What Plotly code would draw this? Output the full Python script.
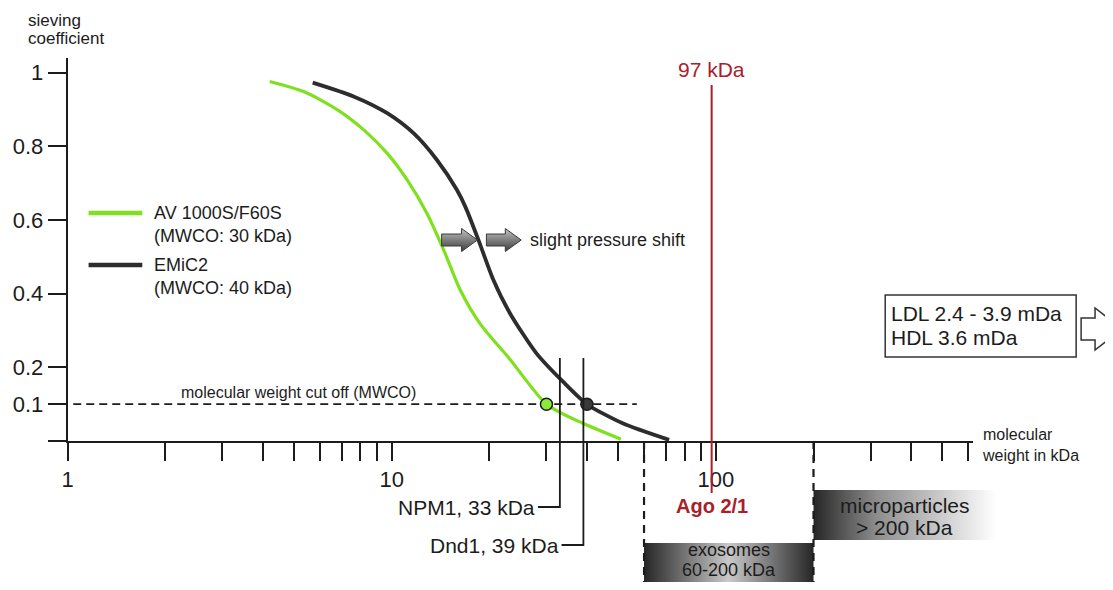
import math
import plotly.graph_objects as go

# ---------------- data ----------------
series_names = ["AV 1000S/F60S", "EMiC2"]
series_notes = ["(MWCO: 30 kDa)", "(MWCO: 40 kDa)"]
series_colors = ["#7ee01e", "#2d2d2d"]
series_widths = [3.2, 3.8]

av_kda = [4.2, 5.37, 6.8, 8.21, 9.68, 11.15, 12.84, 14.45, 16.26, 18.73, 23.14, 30.0, 38.86, 50.9]
av_sc = [0.976, 0.948, 0.899, 0.844, 0.781, 0.709, 0.618, 0.519, 0.410, 0.318, 0.222, 0.100, 0.048, 0.005]
emic_kda = [5.70, 7.65, 9.68, 11.69, 13.78, 15.87, 16.88, 18.50, 20.58, 23.14, 27.94, 33.74, 40.0, 51.55, 71.7]
emic_sc = [0.973, 0.935, 0.890, 0.835, 0.763, 0.682, 0.635, 0.546, 0.437, 0.347, 0.238, 0.161, 0.100, 0.048, 0.003]

mwco_kda = [30, 40]
mwco_level = 0.1
mwco_span = [1.04, 57]
mwco_text = "molecular weight cut off (MWCO)"

protein_names = ["NPM1", "Dnd1"]
protein_kda = [33, 39]

ago_kda = 97
ago_labels = ["97 kDa", "Ago 2/1"]

exosome_range = [60, 200]
exosome_text = ["exosomes", "60-200 kDa"]
microparticle_min = 200
microparticle_text = ["microparticles", "> 200 kDa"]
lipo_text = ["LDL 2.4 - 3.9 mDa", "HDL 3.6 mDa"]

x_tick_vals = [1, 2, 3, 4, 5, 6, 7, 8, 9, 10, 20, 30, 40, 50, 60, 70, 80, 90,
               100, 200, 300, 400, 500, 600]
x_tick_named = {1: "1", 10: "10", 100: "100"}
y_tick_vals = [0, 0.1, 0.2, 0.4, 0.6, 0.8, 1]
y_tick_labels = ["", "0.1", "0.2", "0.4", "0.6", "0.8", "1"]
y_title = ["sieving", "coefficient"]
x_title = ["molecular", "weight in kDa"]
shift_text = "slight pressure shift"

# ---------------- geometry (reference-page pixels) ----------------
PAGE_W, PAGE_H = 1113, 590
OFF = 8                      # default body margin of the page
W, H = PAGE_W - 2 * OFF, PAGE_H - 2 * OFF
X1_PX = 62        # pixel column of x = 1
DEC_PX = 325.9    # pixels per decade
Y0_PX = 441       # pixel row of y = 0
UNIT_PX = 368.3   # pixels per unit of sieving coefficient
XMAX_PX = 972
YTOP_PX = 58

INK = "#1c1c1c"
RED = "#a8202a"
FONT = "Liberation Sans, Arial, sans-serif"


def px_x(px):
    return 10 ** ((px - X1_PX) / DEC_PX)


def px_y(py):
    return (Y0_PX - py) / UNIT_PX


def pp(px, py):
    return (px - OFF) / W, 1 - (py - OFF) / H


fig = go.Figure()

# main curves
for xs, ys, col, wd in zip([av_kda, emic_kda], [av_sc, emic_sc], series_colors, series_widths):
    fig.add_trace(go.Scatter(x=xs, y=ys, mode="lines",
                             line=dict(color=col, width=wd, shape="spline", smoothing=0.7),
                             showlegend=False, hoverinfo="skip"))

# MWCO dashed line and markers
fig.add_trace(go.Scatter(x=mwco_span, y=[mwco_level, mwco_level], mode="lines",
                         line=dict(color=INK, width=1.8, dash="8px,5px"),
                         showlegend=False, hoverinfo="skip"))
fig.add_trace(go.Scatter(x=mwco_kda, y=[mwco_level] * len(mwco_kda), mode="markers",
                         marker=dict(color=["#8fe83c", "#3a3a3a"], size=12,
                                     line=dict(color=INK, width=1.5)),
                         showlegend=False, hoverinfo="skip"))

ov = dict(xaxis="x2", yaxis="y2", showlegend=False, hoverinfo="skip")

# vesicle boxes (overlay coordinates share the main scale)
y_bottom = px_y(PAGE_H)
ex_top = px_y(543)
fig.add_trace(go.Scatter(
    x=[exosome_range[0], exosome_range[1], exosome_range[1], exosome_range[0], exosome_range[0]],
    y=[y_bottom, y_bottom, ex_top, ex_top, y_bottom], mode="lines", fill="toself",
    line=dict(width=0, color="rgba(0,0,0,0)"),
    fillgradient=dict(type="horizontal",
                      colorscale=[[0, "#262626"], [0.5, "#c9c9c9"], [1, "#262626"]]),
    **ov))
mp_end = px_x(995)
mp_top, mp_bot = px_y(490), px_y(540)
fig.add_trace(go.Scatter(
    x=[microparticle_min, mp_end, mp_end, microparticle_min, microparticle_min],
    y=[mp_bot, mp_bot, mp_top, mp_top, mp_bot], mode="lines", fill="toself",
    line=dict(width=0, color="rgba(0,0,0,0)"),
    fillgradient=dict(type="horizontal",
                      colorscale=[[0, "#262626"], [0.35, "#8e8e8e"], [1, "#ffffff"]]),
    **ov))

# dashed vesicle boundaries
for v in exosome_range:
    fig.add_trace(go.Scatter(x=[v, v], y=[0, y_bottom], mode="lines",
                             line=dict(color=INK, width=2.2, dash="8px,6px"), **ov))

# Ago 2/1 line
fig.add_trace(go.Scatter(x=[ago_kda, ago_kda], y=[px_y(85), px_y(493)], mode="lines",
                         line=dict(color=RED, width=2), **ov))

# protein marker lines
prot_top = px_y(358)
prot_bottom = [px_y(507), px_y(545)]
conn = 10 ** (-22 / DEC_PX)
annotations = []
for name, kda, yb in zip(protein_names, protein_kda, prot_bottom):
    fig.add_trace(go.Scatter(x=[kda, kda, kda * conn], y=[prot_top, yb, yb], mode="lines",
                             line=dict(color=INK, width=1.8), **ov))
    annotations.append(dict(text=f"{name}, {kda} kDa", x=math.log10(kda * conn), y=yb,
                            xref="x2", yref="y2", xanchor="right", yanchor="middle",
                            showarrow=False, xshift=-1, font=dict(size=21, color=INK)))


# pressure-shift block arrows
def block_arrow(x0, x1, xh, yc, hh, sh):
    xs = [x0, xh, xh, x1, xh, xh, x0, x0]
    ys = [yc - sh, yc - sh, yc - hh, yc, yc + hh, yc + sh, yc + sh, yc - sh]
    return [px_x(v) for v in xs], [px_y(v) for v in ys]


for (a0, ah, a1) in [(438, 458, 474), (483, 502, 518)]:
    ax_, ay_ = block_arrow(a0, a1, ah, 240, 11.5, 6)
    fig.add_trace(go.Scatter(x=ax_, y=ay_, mode="lines", fill="toself",
                             line=dict(color="#3a3a3a", width=1),
                             fillgradient=dict(type="vertical",
                                               colorscale=[[0, "#3c3c3c"], [0.6, "#8c8c8c"], [1, "#c4c4c4"]]),
                             **ov))


# ---------------- text ----------------
def ptxt(text, px, py, size, xanchor="left", color=INK, **kw):
    x, y = pp(px, py)
    return dict(text=text, x=x, y=y, xref="paper", yref="paper", xanchor=xanchor,
                yanchor="middle", showarrow=False, font=dict(size=size, color=color), **kw)


annotations += [ptxt(y_title[0], 20, 20, 17), ptxt(y_title[1], 20, 38, 17),
                ptxt("<br>".join(x_title), 979, 445, 16, align="left"),
                ptxt(mwco_text, 294, 392, 16, xanchor="center"),
                ptxt(shift_text, 525, 240, 18)]

annotations.append(dict(text=ago_labels[0], x=math.log10(ago_kda), y=px_y(69), xref="x2", yref="y2",
                        showarrow=False, font=dict(size=21, color=RED), yanchor="middle"))
annotations.append(dict(text=f"<b>{ago_labels[1]}</b>", x=math.log10(ago_kda), y=px_y(506),
                        xref="x2", yref="y2", showarrow=False, font=dict(size=20, color=RED),
                        yanchor="middle"))

ex_c = (math.log10(exosome_range[0]) + math.log10(exosome_range[1])) / 2
for t, py in zip(exosome_text, [550, 570]):
    annotations.append(dict(text=t, x=ex_c, y=px_y(py), xref="x2", yref="y2", showarrow=False,
                            font=dict(size=18, color=INK), yanchor="middle"))
mp_c = (math.log10(microparticle_min) + math.log10(mp_end)) / 2
for t, py in zip(microparticle_text, [505, 527]):
    annotations.append(dict(text=t, x=mp_c, y=px_y(py), xref="x2", yref="y2", showarrow=False,
                            font=dict(size=21, color=INK), yanchor="middle"))

# lipoprotein box
for t, py in zip(lipo_text, [314, 337]):
    annotations.append(ptxt(t, 888, py, 21))

shapes = []
bx0, by0 = pp(884, 295)
bx1, by1 = pp(1076, 357)
shapes.append(dict(type="rect", xref="paper", yref="paper", x0=bx0, y0=by1, x1=bx1, y1=by0,
                   line=dict(color="#333333", width=1.5)))
arrow_px = [(1081, 318), (1095, 318), (1095, 308), (1122, 329), (1095, 350), (1095, 340), (1081, 340)]
path = "M " + " L ".join(f"{pp(a, b)[0]:.5f},{pp(a, b)[1]:.5f}" for a, b in arrow_px) + " Z"
shapes.append(dict(type="path", xref="paper", yref="paper", path=path,
                   line=dict(color="#333333", width=1.5), fillcolor="white"))

# manual legend
for i, (nm, note, col) in enumerate(zip(series_names, series_notes, series_colors)):
    yc = 213 + i * 52
    lx0, ly = pp(83, yc)
    lx1, _ = pp(137, yc)
    shapes.append(dict(type="line", xref="paper", yref="paper", x0=lx0, x1=lx1, y0=ly, y1=ly,
                       line=dict(color=col, width=4.5)))
    annotations.append(ptxt(nm, 147, yc, 18))
    annotations.append(ptxt(note, 147, yc + 23, 18))

# ---------------- layout ----------------
x_ticktext = [x_tick_named.get(v, "") for v in x_tick_vals]
xd0, yd1 = pp(X1_PX, YTOP_PX)
xd1, yd0 = pp(XMAX_PX, Y0_PX)

fig.update_layout(
    width=W, height=H,
    margin=dict(l=0, r=0, t=0, b=0),
    paper_bgcolor="white", plot_bgcolor="rgba(0,0,0,0)",
    font=dict(family=FONT, color=INK),
    showlegend=False,
    xaxis=dict(type="log", domain=[xd0, xd1],
               range=[0, (XMAX_PX - X1_PX) / DEC_PX], anchor="y",
               showline=True, linecolor=INK, linewidth=2,
               ticks="outside", ticklen=18, tickwidth=2, tickcolor=INK,
               tickmode="array", tickvals=x_tick_vals, ticktext=x_ticktext,
               tickfont=dict(size=22, color=INK), showgrid=False, zeroline=False),
    yaxis=dict(domain=[yd0, yd1],
               range=[0, (Y0_PX - YTOP_PX) / UNIT_PX], anchor="x",
               showline=True, linecolor=INK, linewidth=2,
               ticks="outside", ticklen=18, tickwidth=2, tickcolor=INK,
               tickmode="array", tickvals=y_tick_vals, ticktext=y_tick_labels,
               tickfont=dict(size=22, color=INK), showgrid=False, zeroline=False),
    xaxis2=dict(type="log", domain=[0, 1], anchor="y2",
                range=[(OFF - X1_PX) / DEC_PX, (PAGE_W - OFF - X1_PX) / DEC_PX], visible=False),
    yaxis2=dict(domain=[0, 1], anchor="x2",
                range=[px_y(PAGE_H - OFF), px_y(OFF)], visible=False),
    annotations=annotations,
    shapes=shapes,
)

fig.write_html("out.html", config={"displayModeBar": False})
